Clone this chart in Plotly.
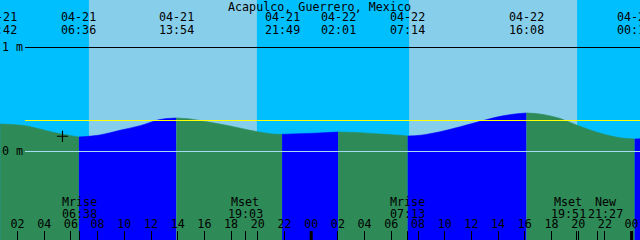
import plotly.graph_objects as go

# ---------------- data ----------------
station = "Acapulco, Guerrero, Mexico"

# hours since 04-21 00:00 and water level (m)
tide_hours = [0.55, 0.70, 2.56, 3.69, 4.66, 5.71, 6.60, 8.18, 9.68, 11.18, 12.67,
              13.90, 14.92, 16.42, 17.92, 19.42, 20.92, 21.82, 23.10, 24.60,
              26.02, 27.66, 29.16, 30.66, 31.23, 32.16, 33.66, 35.16, 36.66,
              38.16, 39.29, 40.13, 41.10, 42.60, 43.87, 45.60, 47.10, 48.23, 48.80]
tide_levels = [0.262, 0.264, 0.248, 0.216, 0.185, 0.159, 0.139, 0.159, 0.204, 0.248, 0.308,
               0.322, 0.313, 0.281, 0.245, 0.204, 0.171, 0.165, 0.171, 0.178,
               0.1875, 0.181, 0.168, 0.156, 0.149, 0.156, 0.190, 0.238, 0.290,
               0.338, 0.361, 0.370, 0.361, 0.319, 0.255, 0.178, 0.133, 0.120, 0.122]

extreme_dates = ["04-21", "04-21", "04-21", "04-21", "04-22", "04-22", "04-22", "04-23"]
extreme_times = ["00:42", "06:36", "13:54", "21:49", "02:01", "07:14", "16:08", "00:14"]

sunrise_times = ["04-21 07:21", "04-22 07:20"]
sunset_times = ["04-21 19:56", "04-22 19:55"]

moon_names = ["Mrise", "Mset", "Mrise", "Mset", "New"]
moon_times = ["04-21 06:38", "04-21 19:03", "04-22 07:13", "04-22 19:51", "04-22 21:27"]

hour_ticks = [2, 4, 6, 8, 10, 12, 14, 16, 18, 20, 22, 24,
              26, 28, 30, 32, 34, 36, 38, 40, 42, 44, 46, 48]
hour_labels = ["02", "04", "06", "08", "10", "12", "14", "16", "18", "20", "22", "00",
               "02", "04", "06", "08", "10", "12", "14", "16", "18", "20", "22", "00"]
midnight_ticks = [24, 48]

depth_levels = [1, 0]
depth_labels = ["1 m", "0 m"]
msl_level = 0.298

mark_hour = 5.37
mark_level = 0.146

# ---------------- styling ----------------
W, H = 640, 240
PX_PER_HOUR = 13.35
X0 = 0.689
PX_PER_M = 104.0
ZERO_ROW = 151.5
X1 = X0 + W / PX_PER_HOUR
Y_TOP = ZERO_ROW / PX_PER_M
Y_BOT = (ZERO_ROW - H) / PX_PER_M

NIGHT = "#00BFFF"
DAY = "#87CEEB"
FLOOD = "#0000FF"
EBB = "#2E8B57"
FONT = dict(family="DejaVu Sans Mono", size=11.7, color="black")


def to_hours(s):
    md, hm = s.split(" ")
    day = int(md.split("-")[1]) - 21
    hh, mm = hm.split(":")
    return day * 24 + int(hh) + int(mm) / 60.0


def py(px):
    return 1 - px / H


extreme_hours = [to_hours(d + " " + t) for d, t in zip(extreme_dates, extreme_times)]
rise_h = [to_hours(s) for s in sunrise_times]
set_h = [to_hours(s) for s in sunset_times]
moon_h = [to_hours(s) for s in moon_times]

fig = go.Figure()

# water, split at extremes into flood / ebb segments
bounds = [tide_hours[0]] + extreme_hours + [tide_hours[-1]]
eps = 0.01
for a, b in zip(bounds[:-1], bounds[1:]):
    xs = [h for h in tide_hours if a - eps <= h <= b + eps]
    ys = [l for h, l in zip(tide_hours, tide_levels) if a - eps <= h <= b + eps]
    if len(xs) < 2:
        continue
    col = FLOOD if ys[-1] > ys[0] else EBB
    fig.add_trace(go.Scatter(x=xs, y=[Y_BOT - 0.2] * len(xs), mode="lines",
                             line=dict(width=0), hoverinfo="skip", showlegend=False))
    fig.add_trace(go.Scatter(x=xs, y=ys, mode="lines", fill="tonexty", fillcolor=col,
                             line=dict(width=0.6, color=col, shape="spline"),
                             hoverinfo="skip", showlegend=False))

# mark
fig.add_trace(go.Scatter(x=[mark_hour], y=[mark_level], mode="markers",
                         marker=dict(symbol="cross-thin", size=8,
                                     line=dict(width=1.1, color="black")),
                         hoverinfo="skip", showlegend=False))

shapes = []
# daylight bands
for r, s in zip(rise_h, set_h):
    shapes.append(dict(type="rect", xref="x", yref="paper", x0=r, x1=s, y0=0, y1=1,
                       fillcolor=DAY, line=dict(width=0), layer="below"))
# depth lines
for lev in depth_levels:
    shapes.append(dict(type="line", xref="paper", yref="y", x0=25 / W, x1=1, y0=lev, y1=lev,
                       line=dict(width=1, color="black" if lev > 0 else "#A6DCEF"),
                       layer="above"))
shapes.append(dict(type="line", xref="paper", yref="y", x0=25 / W, x1=1,
                   y0=msl_level, y1=msl_level, line=dict(width=1, color="#FFFF00"),
                   layer="above"))
# midnight heavy ticks
for m in midnight_ticks:
    shapes.append(dict(type="line", xref="x", yref="paper", x0=m, x1=m, y0=0, y1=9 / H,
                       line=dict(width=3, color="black"), layer="above"))

ann = []
ann.append(dict(text=station, xref="paper", yref="paper", x=319 / W, y=py(7),
                xanchor="center", yanchor="middle", showarrow=False, font=FONT))
for i, (h, d, t) in enumerate(zip(extreme_hours, extreme_dates, extreme_times)):
    sh = -1 if i == 0 else 0
    ann.append(dict(text=d, xref="x", yref="paper", x=h, y=py(17.5), xanchor="center",
                    yanchor="middle", showarrow=False, font=FONT, xshift=sh))
    ann.append(dict(text=t, xref="x", yref="paper", x=h, y=py(29.5), xanchor="center",
                    yanchor="middle", showarrow=False, font=FONT, xshift=sh))
moon_shift = [0, 0, 0, -8, 8]
for h, n, t, sh in zip(moon_h, moon_names, moon_times, moon_shift):
    ann.append(dict(text=n, xref="x", yref="paper", x=h, y=py(202), xanchor="center",
                    yanchor="middle", showarrow=False, font=FONT, xshift=sh))
    ann.append(dict(text=t.split(" ")[1], xref="x", yref="paper", x=h, y=py(213.5),
                    xanchor="center", yanchor="middle", showarrow=False, font=FONT, xshift=sh))
for lev, lab in zip(depth_levels, depth_labels):
    ann.append(dict(text=lab, xref="paper", yref="y", x=0, y=lev, xanchor="left",
                    yanchor="middle", showarrow=False, font=FONT, yshift=1))

fig.update_layout(
    width=W, height=H, margin=dict(l=0, r=0, t=0, b=0, pad=0),
    paper_bgcolor=NIGHT, plot_bgcolor=NIGHT,
    shapes=shapes, annotations=ann, showlegend=False,
    xaxis=dict(range=[X0, X1], showgrid=False, zeroline=False, showline=False,
               tickmode="array", tickvals=hour_ticks + moon_h,
               ticktext=hour_labels + [""] * len(moon_h),
               ticks="inside", ticklen=9, tickwidth=1, tickcolor="black",
               ticklabelposition="inside", tickfont=FONT, fixedrange=True),
    yaxis=dict(range=[Y_BOT, Y_TOP], showgrid=False, zeroline=False, showline=False,
               showticklabels=False, ticks="", fixedrange=True),
)

fig.write_html("out.html")
